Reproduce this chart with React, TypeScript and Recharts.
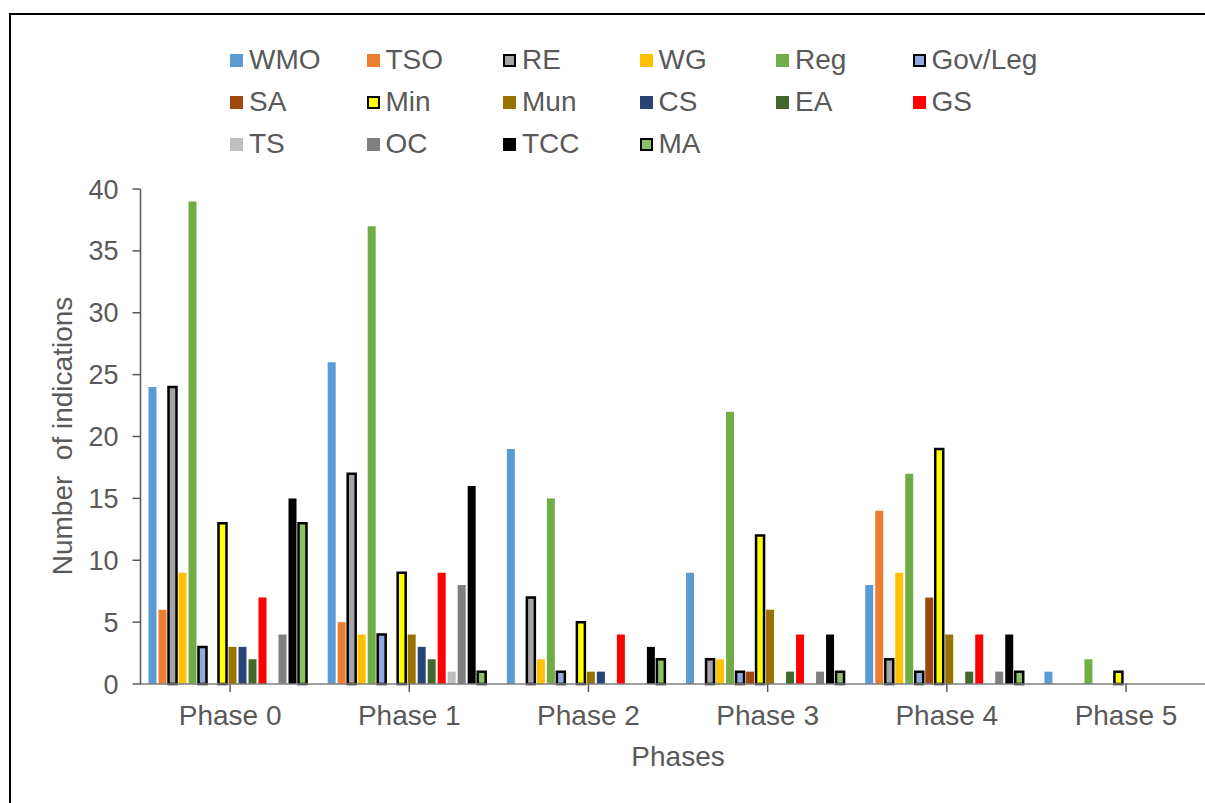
import React from 'react';
import { BarChart, Bar, XAxis, YAxis, Label } from 'recharts';

const phases = ['Phase 0', 'Phase 1', 'Phase 2', 'Phase 3', 'Phase 4', 'Phase 5'];
const WMO = [24, 26, 19, 9, 8, 1];
const TSO = [6, 5, 0, 0, 14, 0];
const RE = [24, 17, 7, 2, 2, 0];
const WG = [9, 4, 2, 2, 9, 0];
const Reg = [39, 37, 15, 22, 17, 2];
const GovLeg = [3, 4, 1, 1, 1, 0];
const SA = [0, 0, 0, 1, 7, 0];
const Min = [13, 9, 5, 12, 19, 1];
const Mun = [3, 4, 1, 6, 4, 0];
const CS = [3, 3, 1, 0, 0, 0];
const EA = [2, 2, 0, 1, 1, 0];
const GS = [7, 9, 4, 4, 4, 0];
const TS = [0, 1, 0, 0, 0, 0];
const OC = [4, 8, 0, 1, 1, 0];
const TCC = [15, 16, 3, 4, 4, 0];
const MA = [13, 1, 2, 1, 1, 0];
const yTicks = [0, 5, 10, 15, 20, 25, 30, 35, 40];

const series = [
  { key: 'WMO', values: WMO, color: '#5B9BD5', border: false },
  { key: 'TSO', values: TSO, color: '#ED7D31', border: false },
  { key: 'RE', values: RE, color: '#A5A5A5', border: true },
  { key: 'WG', values: WG, color: '#FFC000', border: false },
  { key: 'Reg', values: Reg, color: '#70AD47', border: false },
  { key: 'Gov/Leg', values: GovLeg, color: '#8FAADC', border: true },
  { key: 'SA', values: SA, color: '#9E480E', border: false },
  { key: 'Min', values: Min, color: '#FFFF00', border: true },
  { key: 'Mun', values: Mun, color: '#997300', border: false },
  { key: 'CS', values: CS, color: '#264478', border: false },
  { key: 'EA', values: EA, color: '#43682B', border: false },
  { key: 'GS', values: GS, color: '#FF0000', border: false },
  { key: 'TS', values: TS, color: '#BFBFBF', border: false },
  { key: 'OC', values: OC, color: '#7F7F7F', border: false },
  { key: 'TCC', values: TCC, color: '#000000', border: false },
  { key: 'MA', values: MA, color: '#8CC168', border: true },
];

const data = phases.map((p, i) => {
  const row: Record<string, any> = { phase: p };
  series.forEach((s) => {
    row[s.key] = s.values[i];
  });
  return row;
});

const FONT = '"Liberation Sans", Arial, sans-serif';
const TEXT = '#595959';

function LegendBox() {
  return (
    <div style={{ position: 'absolute', left: 0, top: 0 }}>
      {series.map((s, i) => {
        const col = i % 6;
        const row = Math.floor(i / 6);
        return (
          <div
            key={s.key}
            style={{
              position: 'absolute',
              left: 230 + col * 136.5,
              top: 60 + row * 42 - 17,
              height: 34,
              display: 'flex',
              alignItems: 'center',
              whiteSpace: 'nowrap',
              fontFamily: FONT,
              fontSize: 28,
              color: TEXT,
            }}
          >
            <span
              style={{
                display: 'inline-block',
                width: 13,
                height: 13,
                boxSizing: 'border-box',
                background: s.color,
                border: s.border ? '2.5px solid #000' : 'none',
                marginRight: 6,
              }}
            />
            <span>{s.key}</span>
          </div>
        );
      })}
    </div>
  );
}

export default function App() {
  return (
    <div
      style={{
        position: 'absolute',
        left: 0,
        top: 0,
        width: 1205,
        height: 803,
        overflow: 'hidden',
        background: '#fff',
      }}
    >
      <div
        style={{
          position: 'absolute',
          left: 9,
          top: 13,
          width: 1400,
          height: 1000,
          border: '2px solid #000',
          boxSizing: 'border-box',
        }}
      />
      <div style={{ position: 'absolute', left: 0, top: 0 }}>
        <BarChart
          width={1230}
          height={803}
          data={data}
          margin={{ top: 189, right: 14.4, bottom: 0, left: 0 }}
          barGap={2}
          barCategoryGap={8}
        >
          <XAxis
            dataKey="phase"
            height={119}
            tickSize={8}
            tickMargin={13}
            interval={0}
            axisLine={{ stroke: '#7F7F7F', strokeWidth: 1.5 }}
            tickLine={{ stroke: '#595959', strokeWidth: 1.5 }}
            tick={{ fill: TEXT, fontSize: 28, fontFamily: FONT }}
          >
            <Label
              value="Phases"
              position="insideBottom"
              offset={37}
              style={{ fill: TEXT, fontSize: 28, fontFamily: FONT }}
            />
          </XAxis>
          <YAxis
            domain={[0, 40]}
            ticks={yTicks}
            interval={0}
            width={140.5}
            tickSize={8}
            tickMargin={14}
            axisLine={{ stroke: '#595959', strokeWidth: 1.5 }}
            tickLine={{ stroke: '#595959', strokeWidth: 1.5 }}
            tick={{ fill: TEXT, fontSize: 27, fontFamily: FONT }}
          >
            <Label
              content={() => (
                <text
                  x={72}
                  y={436}
                  transform="rotate(-90 72 436)"
                  textAnchor="middle"
                  fill={TEXT}
                  fontSize={28}
                  fontFamily={FONT}
                  style={{ whiteSpace: 'pre' }}
                >
                  Number  of indications
                </text>
              )}
            />
          </YAxis>
          {series.map((s) => (
            <Bar
              key={s.key}
              dataKey={s.key}
              name={s.key}
              fill={s.color}
              stroke={s.border ? '#000' : 'none'}
              strokeWidth={s.border ? 2.5 : 0}
              isAnimationActive={false}
            />
          ))}
        </BarChart>
      </div>
      <LegendBox />
    </div>
  );
}
